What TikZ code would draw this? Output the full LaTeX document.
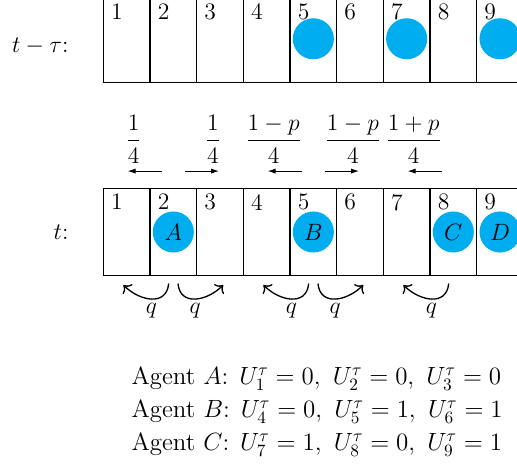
\documentclass[tikz,border=0pt,12pt]{standalone}
\usepackage{amsmath}
\usetikzlibrary{arrows.meta, positioning}
\definecolor{agentCyan}{HTML}{00AEEF}
\tikzset{
  cellBox/.style={rectangle, draw, line width=0.9pt, minimum width=1cm,
                  minimum height=1.87cm, inner sep=0pt, outer sep=0pt},
  cellNum/.style={anchor=north west, inner sep=0pt},
  agentDot/.style={circle, fill=agentCyan, minimum size=0.88cm, inner sep=0pt},
  arrowS/.style={-{Latex[length=1.7mm, width=1.1mm]}, line width=0.6pt},
  arrowQ/.style={-{To[length=1.4mm]}, line width=0.8pt},
}

\begin{document}
\begin{tikzpicture}[font=\large]
    \useasboundingbox (0,0) rectangle (11.078,10.071);
    \clip (0,0) rectangle (11.078,10.071);
    % time t (bottom row) and t-tau (top row)
    \node[cellBox] (c1) at (2.714,5.1) {};
    \foreach \i [count=\j from 2] in {1,...,8}
      \node[cellBox, right=0pt of c\i] (c\j) {};
    \node[cellBox, above=2.27cm of c1] (p1) {};
    \foreach \i [count=\j from 2] in {1,...,8}
      \node[cellBox, right=0pt of p\i] (p\j) {};
    \foreach \i in {1,...,9} {
      \node[cellNum] (n\i) at ([shift={(0.16,-0.12)}]c\i.north west) {\i};
      \node[cellNum] (m\i) at ([shift={(0.16,-0.17)}]p\i.north west) {\i};
    }
    \node[left=0.6cm of p1, yshift=-1.6mm] (rowTop) {$t-\tau$:};
    \node[left=0.6cm of c1] (rowBot) {$t$:};

    % agents
    \foreach \c in {5,7,9}
      \node[agentDot] (o\c) at (p\c) {};
    \node[agentDot] (agA) at (c2) {$A$};
    \node[agentDot] (agB) at (c5) {$B$};
    \node[agentDot] (agC) at (c8) {$C$};
    \node[agentDot] (agD) at (c9) {$D$};

    % move probabilities
    \draw[arrowS] ([shift={(-0.25,0.37)}]c2.north) -- ([shift={(-0.98,0.37)}]c2.north);
    \draw[arrowS] ([shift={(0.25,0.37)}]c2.north) -- ([shift={(0.98,0.37)}]c2.north);
    \draw[arrowS] ([shift={(-0.25,0.37)}]c5.north) -- ([shift={(-0.98,0.37)}]c5.north);
    \draw[arrowS] ([shift={(0.25,0.37)}]c5.north) -- ([shift={(0.98,0.37)}]c5.north);
    \draw[arrowS] ([shift={(-0.25,0.37)}]c8.north) -- ([shift={(-0.98,0.37)}]c8.north);
    \node (f1) at ([shift={(-0.85,1.05)}]c2.north) {$\dfrac{1}{4}$};
    \node (f2) at ([shift={(0.85,1.05)}]c2.north) {$\dfrac{1}{4}$};
    \node (f3) at ([shift={(-0.85,1.05)}]c5.north) {$\dfrac{1-p}{4}$};
    \node (f4) at ([shift={(0.85,1.05)}]c5.north) {$\dfrac{1-p}{4}$};
    \node (f5) at ([shift={(-0.85,1.05)}]c8.north) {$\dfrac{1+p}{4}$};

    % swaps with q
    \draw[arrowQ] ([shift={(-0.1,-0.17)}]c2.south) to[out=-95, in=-45, looseness=1.3]
      node[below, inner sep=2.5pt] (q1) {$q$} ([shift={(-1.07,-0.2)}]c2.south);
    \draw[arrowQ] ([shift={(0.1,-0.17)}]c2.south) to[out=-85, in=-135, looseness=1.3]
      node[below, inner sep=2.5pt] (q2) {$q$} ([shift={(1.07,-0.2)}]c2.south);
    \draw[arrowQ] ([shift={(-0.1,-0.17)}]c5.south) to[out=-95, in=-45, looseness=1.3]
      node[below, inner sep=2.5pt] (q3) {$q$} ([shift={(-1.07,-0.2)}]c5.south);
    \draw[arrowQ] ([shift={(0.1,-0.17)}]c5.south) to[out=-85, in=-135, looseness=1.3]
      node[below, inner sep=2.5pt] (q4) {$q$} ([shift={(1.07,-0.2)}]c5.south);
    \draw[arrowQ] ([shift={(-0.1,-0.17)}]c8.south) to[out=-95, in=-45, looseness=1.3]
      node[below, inner sep=2.5pt] (q5) {$q$} ([shift={(-1.07,-0.2)}]c8.south);

    \node[below=1.8cm of c5, xshift=0.08cm, align=left,
          scale=1.055, transform shape] (stats)
      {Agent $A$: $U_1^\tau=0,\ U_2^\tau=0,\ U_3^\tau=0$\\[1pt]
       Agent $B$: $U_4^\tau=0,\ U_5^\tau=1,\ U_6^\tau=1$\\[1pt]
       Agent $C$: $U_7^\tau=1,\ U_8^\tau=0,\ U_9^\tau=1$};
  \end{tikzpicture}
\end{document}
